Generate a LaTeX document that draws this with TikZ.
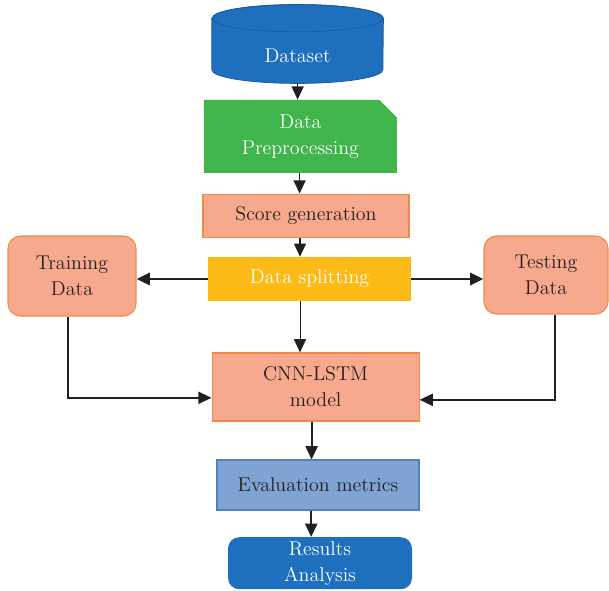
\documentclass[tikz,border=0pt]{standalone}
\usepackage{tikz}
\usetikzlibrary{arrows.meta,calc,positioning,shapes.geometric,shapes.misc}

\definecolor{dsblue}{HTML}{1F6FBF}
\definecolor{dsedge}{HTML}{1A5C9E}
\definecolor{ppgreen}{HTML}{3FB54C}
\definecolor{salmon}{HTML}{F6A98C}
\definecolor{salmonedge}{HTML}{F08A4B}
\definecolor{spyellow}{HTML}{FBBA16}
\definecolor{evfill}{HTML}{7FA3D3}
\definecolor{evedge}{HTML}{5580C0}
\definecolor{inkdark}{HTML}{231F20}

\begin{document}
\begin{tikzpicture}[
	font=\fontsize{14.2}{18.5}\selectfont,
	box/.style = {draw=salmonedge, fill=salmon, text=inkdark, align=center, line width=0.8pt, inner sep=0pt},
	rbox/.style = {box, rounded corners=9pt},
	arr/.style = {-{Triangle[length=3.3mm,width=3mm]}, line width=1pt, draw=inkdark},
	harr/.style = {arr, line width=2pt}
	]
	\useasboundingbox (0,0) rectangle (15.225,-14.75);

	% dataset drum
	\node[minimum width=4.275cm, minimum height=1.275cm, inner sep=0pt] (ds) at (7.44,-1.1) {};
	\filldraw[fill=dsblue, draw=dsedge, line width=0.6pt] (ds.north west) -- (ds.south west)
		arc[start angle=180, end angle=360, x radius=2.1375cm, y radius=0.34cm] -- (ds.north east)
		arc[start angle=0, end angle=180, x radius=2.1375cm, y radius=0.34cm] -- cycle;
	\draw[dsedge, line width=0.6pt] (ds.north) ellipse[x radius=2.1375cm, y radius=0.34cm];
	\node[text=white] (dslabel) at ($(ds.center)+(0,-0.3)$) {Dataset};

	\node[chamfered rectangle, chamfered rectangle corners=north east, chamfered rectangle xsep=0.22cm,
		chamfered rectangle ysep=0.22cm, fill=ppgreen, text=white, align=center,
		minimum width=4.825cm, minimum height=1.825cm, inner sep=0pt] (pp) at (7.51,-3.41) {Data\\Preprocessing};
	\node[box, minimum width=5.15cm, minimum height=1.075cm] (sg) at (7.65,-5.39) {Score generation};
	\node[fill=spyellow, text=white, minimum width=5.075cm, minimum height=1.1cm, inner sep=0pt] (sp) at (7.74,-6.975) {Data splitting};
	\node[rbox, minimum width=3.2cm, minimum height=2cm] (tr) at (1.8,-6.9) {Training\\Data};
	\node[rbox, minimum width=3.1cm, minimum height=1.95cm] (te) at (13.65,-6.875) {Testing\\Data};
	\node[box, minimum width=5.175cm, minimum height=1.7cm] (cnn) at (7.89,-9.675) {CNN-LSTM\\model};
	\node[draw=evedge, fill=evfill, text=inkdark, line width=0.8pt, minimum width=5.05cm, minimum height=1.25cm,
		inner sep=0pt] (ev) at (7.95,-12.125) {Evaluation metrics};
	\node[fill=dsblue, text=white, rounded corners=8pt, align=center, minimum width=4.6cm, minimum height=1.3cm,
		inner sep=0pt] (ra) at (8.0,-14.08) {Results\\Analysis};

	% main flow
	\draw[arr] ($(ds.south)+(0,-0.34)$) -- (ds.south |- pp.north);
	\draw[arr] ($(pp.south)+(-0.02,0)$) -- ($(pp.south |- sg.north)+(-0.02,0)$);
	\draw[arr] ($(sg.south)+(-0.15,0)$) -- ($(sg.south |- sp.north)+(-0.15,0)$);
	\draw[harr] (sp.west) -- (tr.east |- sp.west);
	\draw[harr] (sp.east) -- (te.west |- sp.east);
	\draw[arr, line width=0.6pt] ($(sp.south)+(-0.24,0)$) -- ($(sp.south |- cnn.north)+(-0.24,0)$);
	\draw[arr, line width=1.4pt] ($(tr.south)+(-0.1,0)$) |- ($(cnn.west)+(0,-0.27)$);
	\draw[arr, line width=1.4pt] ($(te.south)+(0.22,0)$) |- ($(cnn.east)+(0,-0.32)$);
	\draw[arr, line width=1.4pt] ($(cnn.south)+(-0.1,0)$) -- ($(cnn.south |- ev.north)+(-0.1,0)$);
	\draw[arr, line width=1.4pt] ($(ev.south)+(-0.17,0)$) -- ($(ev.south |- ra.north)+(-0.17,0)$);
\end{tikzpicture}
\end{document}
